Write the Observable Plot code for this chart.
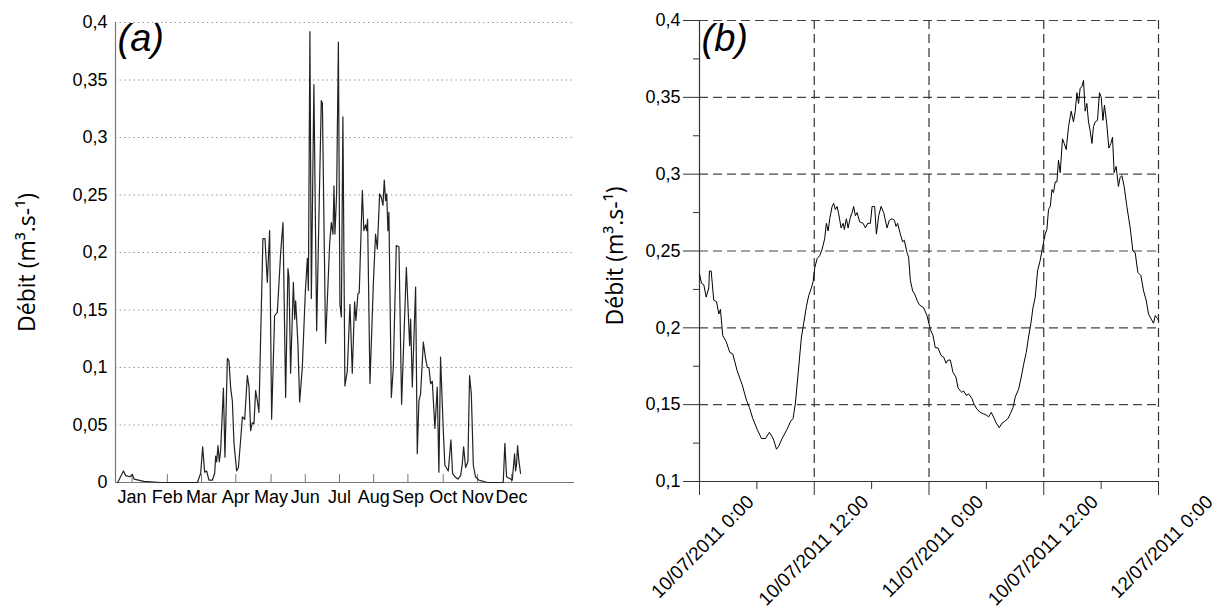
<!DOCTYPE html>
<html><head><meta charset="utf-8">
<script src="https://cdn.jsdelivr.net/npm/d3@7"></script>
<script src="https://cdn.jsdelivr.net/npm/@observablehq/plot@0.6"></script>
<style>
body{margin:0;background:#fff;}
#wrap{position:relative;width:1218px;height:610px;overflow:hidden;background:#fff;}
#a{position:absolute;left:0;top:0;}
#b{position:absolute;left:590px;top:0;}
</style></head><body><div id="wrap"><div id="a"></div><div id="b"></div></div>
<script>
// ---------- Panel (a): daily discharge over the year ----------
const months = ["Jan","Feb","Mar","Apr","May","Jun","Jul","Aug","Sep","Oct","Nov","Dec"];
const monthTicks = [13, 45, 76, 107, 139, 170, 201, 232, 263, 295, 326, 357];
const yTicksA = [0, 0.05, 0.1, 0.15, 0.2, 0.25, 0.3, 0.35, 0.4];
const dayA = [0,5.2,7.2,11.1,13.3,14.8,23.8,39,72.2,75.2,77,78.8,80.6,82.7,85.8,87.9,88.8,89.7,90.9,92.1,93.3,95.8,97.2,99.4,100.8,102.4,103.9,105.4,107.8,109.4,111.4,113,115.1,117.5,119,120.5,122,123.5,125,126.6,128,131.6,133.5,135.6,137.7,139.5,142.2,144.7,147.7,149.8,152.2,154.3,155.2,156.7,159.2,160.4,161.3,163.3,164.9,167.3,170.1,171.9,172.8,174.2,175.5,177.8,180.3,184.5,185.5,188.4,192.1,193.6,195.1,196,196.9,198.4,200,201.4,202.7,204.1,205.9,208.1,210.5,212.6,214.7,215.9,217.7,218.9,221.7,223.1,224.7,225.6,226.5,228.6,231.7,233.7,235.3,237.4,238.9,240.4,241.6,242.8,243.8,244.9,245.8,248,249.8,252.5,254.9,257.3,261.6,264.6,265.5,267,270,271.5,273,274.5,277,279,280.6,282.1,283.6,285.1,287.5,289.6,291.1,292.6,295.1,296.5,299.6,302,303.5,305.6,308.3,310.8,312.3,313.5,315.3,317.4,318.9,320.5,322.3,324.3,327.3,335,349.4,350.9,352.4,356.1,357.6,359.7,360.6,361.5,362.4,363.6,365.1];
const flowA = [0,0.010,0.006,0.005,0.007,0.003,0.001,0,0,0.008,0.031,0.009,0.010,0.002,0.002,0.008,0.023,0.018,0.032,0.018,0.028,0.082,0.022,0.108,0.106,0.082,0.071,0.034,0.010,0.013,0.037,0.057,0.055,0.093,0.083,0.045,0.052,0.051,0.080,0.071,0.061,0.212,0.212,0.174,0.219,0.055,0.145,0.148,0.200,0.226,0.074,0.186,0.179,0.095,0.174,0.142,0.158,0.121,0.070,0.100,0.167,0.195,0.167,0.392,0.160,0.346,0.132,0.332,0.330,0.121,0.208,0.226,0.216,0.258,0.216,0.251,0.383,0.155,0.144,0.318,0.084,0.097,0.155,0.095,0.157,0.141,0.164,0.165,0.254,0.219,0.224,0.219,0.229,0.086,0.173,0.216,0.203,0.251,0.248,0.241,0.263,0.245,0.251,0.219,0.235,0.074,0.100,0.206,0.205,0.068,0.187,0.119,0.142,0.083,0.170,0.025,0.071,0.077,0.122,0.108,0.100,0.100,0.086,0.088,0.047,0.083,0.009,0.109,0.045,0.015,0.010,0.037,0.008,0.005,0.003,0.006,0.016,0.031,0.013,0.018,0.093,0.077,0.015,0.005,0.002,0,0,0.034,0.005,0.003,0.002,0.025,0.010,0.016,0.032,0.019,0.008];

// ---------- Panel (b): 48 h of discharge, 10-12 July 2011 ----------
const xLabelsB = ["10/07/2011 0:00","10/07/2011 12:00","11/07/2011 0:00","10/07/2011 12:00","12/07/2011 0:00"];
const xMajorHoursB = [0, 12, 24, 36, 48];
const xMinorHoursB = [6, 18, 30, 42];
const yTicksB = [0.1, 0.15, 0.2, 0.25, 0.3, 0.35, 0.4];
const yMinorB = [0.125, 0.175, 0.225, 0.275, 0.325, 0.375];
const hoursB = [0,0.21,0.45,0.70,0.97,1.04,1.22,1.49,1.78,2.02,2.19,2.43,2.79,3.17,3.48,3.94,4.46,4.91,5.23,5.57,6.03,6.48,6.90,7.31,7.60,7.76,8.05,8.29,8.64,9.16,9.51,9.79,10.03,10.31,10.66,10.90,11.18,11.42,11.70,11.88,12.05,12.30,12.57,12.82,13.09,13.27,13.45,13.62,13.87,14.03,14.21,14.39,14.56,14.81,15.02,15.15,15.36,15.54,15.78,15.96,16.12,16.30,16.48,16.75,17.11,17.35,17.59,17.87,18.05,18.32,18.50,18.74,18.99,19.26,19.61,19.85,20.14,20.38,20.55,20.72,21.00,21.24,21.42,21.70,21.87,22.05,22.29,22.50,22.75,22.99,23.44,23.79,24.14,24.42,24.66,24.94,25.26,25.53,25.78,25.99,26.23,26.51,26.82,27.03,27.27,27.45,27.62,27.90,28.14,28.50,28.66,29.02,29.36,29.71,30.06,30.23,30.51,30.75,31.03,31.35,31.63,31.90,32.26,32.50,32.78,33.02,33.37,33.65,33.89,34.17,34.41,34.66,34.87,35.11,35.35,35.63,35.87,36.15,36.33,36.50,36.68,36.86,37.02,37.20,37.38,37.54,37.72,37.96,38.14,38.35,38.59,38.87,39.11,39.29,39.47,39.64,39.81,39.99,40.16,40.33,40.51,40.68,40.86,41.04,41.20,41.38,41.62,41.83,42.01,42.19,42.35,42.60,42.81,43.02,43.19,43.36,43.57,43.81,43.99,44.17,44.41,44.69,45.04,45.32,45.56,45.84,46.16,46.44,46.71,46.96,47.21,47.48,47.66,47.90,48];
const flowB = [0.235,0.229,0.228,0.220,0.226,0.237,0.237,0.218,0.217,0.209,0.212,0.195,0.191,0.184,0.183,0.172,0.163,0.153,0.148,0.141,0.134,0.128,0.128,0.132,0.129,0.127,0.121,0.123,0.128,0.134,0.139,0.141,0.151,0.170,0.194,0.203,0.214,0.221,0.226,0.230,0.239,0.245,0.247,0.251,0.258,0.268,0.263,0.271,0.279,0.281,0.277,0.279,0.274,0.265,0.268,0.264,0.271,0.265,0.272,0.275,0.279,0.273,0.275,0.269,0.268,0.265,0.268,0.268,0.279,0.279,0.261,0.273,0.279,0.275,0.265,0.270,0.271,0.270,0.266,0.268,0.261,0.256,0.257,0.249,0.246,0.231,0.224,0.222,0.218,0.215,0.213,0.208,0.199,0.195,0.187,0.187,0.182,0.181,0.177,0.179,0.179,0.171,0.168,0.161,0.159,0.158,0.159,0.156,0.157,0.154,0.151,0.147,0.145,0.144,0.143,0.142,0.145,0.142,0.138,0.135,0.138,0.139,0.141,0.144,0.148,0.155,0.160,0.168,0.176,0.184,0.194,0.203,0.213,0.220,0.237,0.244,0.252,0.261,0.264,0.277,0.279,0.290,0.288,0.295,0.295,0.309,0.301,0.323,0.320,0.316,0.331,0.341,0.334,0.341,0.353,0.346,0.356,0.357,0.361,0.341,0.346,0.334,0.328,0.320,0.331,0.334,0.335,0.353,0.350,0.335,0.345,0.332,0.317,0.320,0.324,0.301,0.305,0.292,0.298,0.299,0.292,0.279,0.265,0.250,0.249,0.236,0.234,0.224,0.218,0.209,0.206,0.203,0.208,0.206,0.205];

const fmt = d => d === 0 ? "0" : String(d).replace(".", ",");
const SANS = "'Liberation Sans', Arial, sans-serif";
const TITLE = "'Open Sans', 'Liberation Sans', sans-serif";
const yTitle = "Débit (m³.s-¹)";

// ---- Panel (a)
const dataA = dayA.map((d, i) => ({day: d, q: flowA[i]}));
const plotA = Plot.plot({
  width: 590, height: 610,
  marginLeft: 115, marginRight: 16, marginTop: 22, marginBottom: 128,
  style: {fontFamily: SANS, fontSize: "18px", color: "#000", background: "transparent"},
  x: {domain: [-2, 414], label: null},
  y: {domain: [0, 0.4], label: null},
  marks: [
    Plot.ruleY(yTicksA.filter(v => v > 0), {stroke: "#8a8a8a", strokeDasharray: "1.3,3.3", strokeWidth: 1}),
    Plot.axisY({ticks: yTicksA, tickSize: 0, tickPadding: 8, tickFormat: fmt, fontSize: 18, label: null}),
    Plot.tickX(monthTicks, {stroke: "#777", insetTop: 452}),
    Plot.axisX({ticks: monthTicks, tickSize: 0, tickPadding: 8, tickFormat: d => months[monthTicks.indexOf(d)], fontSize: 18, label: null}),
    Plot.ruleX([-2], {stroke: "#777", strokeWidth: 1.2}),
    Plot.ruleY([0], {stroke: "#777", strokeWidth: 1.2}),
    Plot.line(dataA, {x: "day", y: "q", stroke: "#222", strokeWidth: 1.2}),
    Plot.text(["(a)"], {frameAnchor: "top-left", textAnchor: "start", lineAnchor: "top", dx: 2, dy: 2, fontSize: 38, fontStyle: "italic", fontFamily: SANS}),
    Plot.text([yTitle], {frameAnchor: "left", textAnchor: "middle", rotate: -90, dx: -88, dy: 10, fontSize: 23, fontFamily: TITLE})
  ]
});
document.getElementById("a").appendChild(plotA);

// ---- Panel (b)
const t0 = Date.UTC(2011, 6, 10);
const toDate = h => new Date(t0 + h * 3600000);
const dataB = hoursB.map((h, i) => ({t: toDate(h), q: flowB[i]}));
const majorB = xMajorHoursB.map(toDate);
const minorB = xMinorHoursB.map(toDate);
const labelsB = xMajorHoursB.map((h, i) => ({t: toDate(h), label: xLabelsB[i]}));
const plotB = Plot.plot({
  width: 628, height: 610,
  marginLeft: 109, marginRight: 60, marginTop: 20, marginBottom: 129,
  style: {fontFamily: SANS, fontSize: "18px", color: "#000", background: "transparent"},
  x: {type: "utc", domain: [toDate(0), toDate(48)], label: null},
  y: {domain: [0.1, 0.4], label: null},
  marks: [
    Plot.ruleY(yTicksB.filter(v => v > 0.1), {stroke: "#444", strokeDasharray: "9,5", strokeWidth: 1.2}),
    Plot.ruleX(majorB.slice(1), {stroke: "#333", strokeDasharray: "9,5", strokeWidth: 1.2}),
    Plot.axisY({ticks: yTicksB, tickSize: 16, tickPadding: 3, tickFormat: fmt, fontSize: 18, label: null, stroke: "#333"}),
    Plot.axisY({ticks: yMinorB, tickSize: 6, tickFormat: () => "", label: null, stroke: "#333"}),
    Plot.axisX({ticks: majorB, tickSize: 14, tickFormat: () => "", label: null, stroke: "#333"}),
    Plot.axisX({ticks: minorB, tickSize: 8, tickFormat: () => "", label: null, stroke: "#333"}),
    Plot.ruleX([toDate(0)], {stroke: "#333", strokeWidth: 1.2}),
    Plot.ruleY([0.1], {stroke: "#333", strokeWidth: 1.2}),
    Plot.line(dataB, {x: "t", y: "q", stroke: "#000", strokeWidth: 1}),
    Plot.text(labelsB, {x: "t", text: "label", frameAnchor: "bottom", rotate: -45, textAnchor: "end", lineAnchor: "top", dx: 46, dy: 12, fontSize: 19}),
    Plot.text(["(b)"], {frameAnchor: "top-left", textAnchor: "start", lineAnchor: "top", dx: 2, dy: 4, fontSize: 38, fontStyle: "italic", fontFamily: SANS}),
    Plot.text([yTitle], {frameAnchor: "left", textAnchor: "middle", rotate: -90, dx: -84, dy: 5, fontSize: 23, fontFamily: TITLE})
  ]
});
document.getElementById("b").appendChild(plotB);
</script>
</body></html>
